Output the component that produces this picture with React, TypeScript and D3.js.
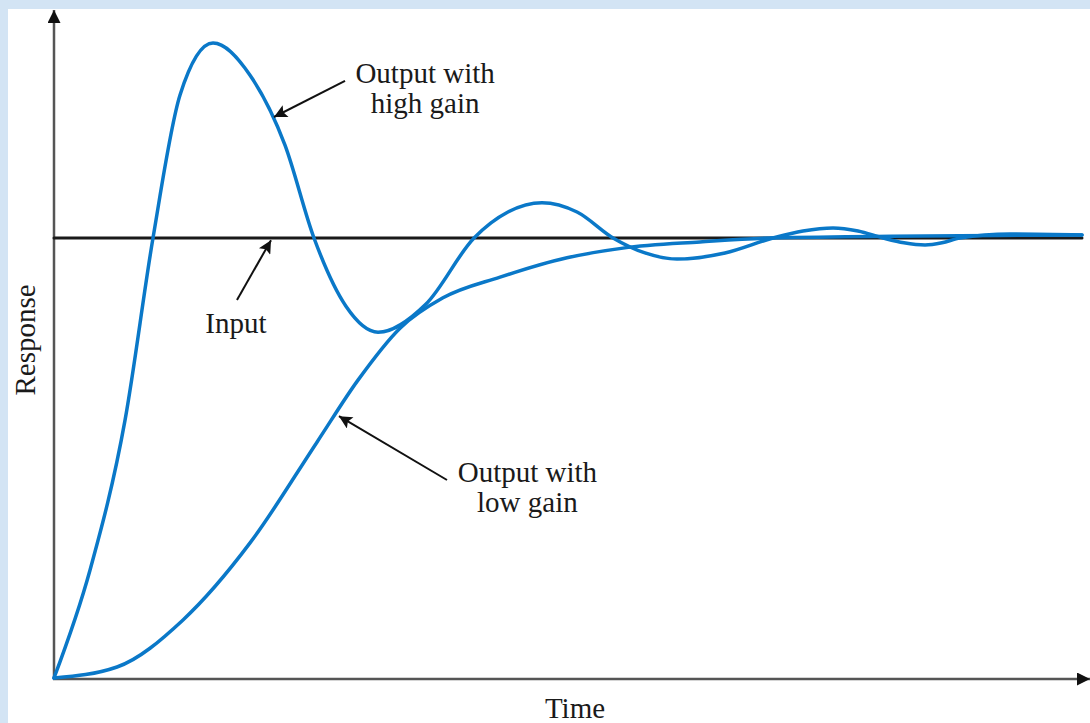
import { useEffect, useRef } from 'react';
import * as d3 from 'd3';

// time runs 0..10, response 0..~1.45 (input step = 1)
const highGainT = [0, 0.35, 0.691, 0.963, 1.226, 1.547, 1.907, 2.247, 2.529, 2.84, 3.152, 3.619, 4.086, 4.416, 4.747, 5.088, 5.438, 5.749, 6.06, 6.527, 6.994, 7.286, 7.578, 7.821, 8.064, 8.268, 8.473, 8.638, 8.813, 9.3, 10];
const highGainR = [0, 0.245, 0.586, 1.0, 1.325, 1.443, 1.37, 1.211, 1.0, 0.845, 0.786, 0.85, 1.0, 1.059, 1.08, 1.059, 1.0, 0.966, 0.952, 0.966, 1.0, 1.016, 1.023, 1.016, 1.0, 0.989, 0.984, 0.989, 1.0, 1.009, 1.007];

const lowGainT = [0, 0.613, 1.255, 1.907, 2.558, 2.957, 3.366, 3.784, 4.339, 4.99, 5.535, 6.284, 6.965, 10];
const lowGainR = [0, 0.025, 0.132, 0.307, 0.536, 0.677, 0.795, 0.864, 0.911, 0.955, 0.977, 0.991, 1.0, 1.007];

const inputT = [0, 10];
const inputR = [1, 1];

// annotation arrows: [tailT, tailR, tipT, tipR]
const arrowNames = ['high', 'input', 'low'];
const arrowCoords = [
  [2.831, 1.357, 2.14, 1.275],
  [1.78, 0.859, 2.111, 0.995],
  [3.823, 0.45, 2.772, 0.595],
];

// label lines and their centre anchor (t, r of first baseline)
const labelLines = [['Output with', 'high gain'], ['Input'], ['Output with', 'low gain']];
const labelAnchors = [[3.61, 1.352], [1.77, 0.784], [4.605, 0.445]];

const xLabel = 'Time';
const yLabel = 'Response';

const W = 1090;
const H = 723;

export default function App() {
  const svgRef = useRef<SVGSVGElement>(null);

  useEffect(() => {
    if (!svgRef.current) return;
    const svg = d3.select(svgRef.current);
    svg.selectAll('*').remove();

    const x = d3.scaleLinear().domain([0, 10]).range([54, 1082]);
    const y = d3.scaleLinear().domain([0, 1]).range([678, 238]);

    const blue = '#0a78c8';
    const font = '"Liberation Serif", "DejaVu Serif", serif';
    const fontSize = 29;

    // background frame
    svg.append('rect').attr('width', W).attr('height', H).attr('fill', '#d3e4f4');
    svg.append('rect').attr('x', 8).attr('y', 9).attr('width', W - 8).attr('height', H - 9).attr('fill', '#ffffff');

    const defs = svg.append('defs');
    defs.append('marker')
      .attr('id', 'axis-head')
      .attr('viewBox', '0 0 10 10')
      .attr('refX', 10)
      .attr('refY', 5)
      .attr('markerUnits', 'userSpaceOnUse')
      .attr('markerWidth', 14)
      .attr('markerHeight', 13)
      .attr('orient', 'auto')
      .append('path')
      .attr('d', 'M0,0 L10,5 L0,10 Z')
      .attr('fill', '#111');
    defs.append('marker')
      .attr('id', 'note-head')
      .attr('viewBox', '0 0 10 10')
      .attr('refX', 10)
      .attr('refY', 5)
      .attr('markerUnits', 'userSpaceOnUse')
      .attr('markerWidth', 20)
      .attr('markerHeight', 13)
      .attr('orient', 'auto')
      .append('path')
      .attr('d', 'M0,0 L10,5 L0,10 L2,5 Z')
      .attr('fill', '#111');

    // axes
    const [x0, x1] = x.range();
    svg.append('line')
      .attr('x1', x0).attr('y1', y(0) + 1)
      .attr('x2', x0).attr('y2', 10)
      .attr('stroke', '#555').attr('stroke-width', 2.5)
      .attr('marker-end', 'url(#axis-head)');
    svg.append('line')
      .attr('x1', x0 - 1).attr('y1', y(0) + 1)
      .attr('x2', x1 + 8).attr('y2', y(0) + 1)
      .attr('stroke', '#555').attr('stroke-width', 2.5)
      .attr('marker-end', 'url(#axis-head)');

    const drawSeries = (ts: number[], rs: number[], color: string, w: number, curve: d3.CurveFactory) => {
      const gen = d3.line<number>()
        .x((t) => x(t))
        .y((_, i) => y(rs[i]))
        .curve(curve);
      svg.append('path')
        .datum(ts)
        .attr('d', gen)
        .attr('fill', 'none')
        .attr('stroke', color)
        .attr('stroke-width', w)
        .attr('stroke-linecap', 'round');
    };

    drawSeries(inputT, inputR, '#1a1a1a', 3, d3.curveLinear);
    drawSeries(lowGainT, lowGainR, blue, 3.5, d3.curveMonotoneX);
    drawSeries(highGainT, highGainR, blue, 3.5, d3.curveMonotoneX);

    // annotation arrows
    svg.selectAll('.note-arrow')
      .data(arrowCoords)
      .enter()
      .append('line')
      .attr('class', (_, i) => `note-arrow ${arrowNames[i]}`)
      .attr('x1', (d) => x(d[0]))
      .attr('y1', (d) => y(d[1]))
      .attr('x2', (d) => x(d[2]))
      .attr('y2', (d) => y(d[3]))
      .attr('stroke', '#111')
      .attr('stroke-width', 2)
      .attr('marker-end', 'url(#note-head)');

    // labels
    labelLines.forEach((lines, i) => {
      const [t, r] = labelAnchors[i];
      const txt = svg.append('text')
        .attr('x', x(t))
        .attr('y', y(r))
        .attr('text-anchor', 'middle')
        .attr('font-family', font)
        .attr('font-size', fontSize)
        .attr('fill', '#1a1a1a');
      lines.forEach((s, j) => {
        txt.append('tspan').attr('x', x(t)).attr('dy', j === 0 ? 0 : 30).text(s);
      });
    });

    svg.append('text')
      .attr('x', (x0 + x1) / 2 + 7)
      .attr('y', 718)
      .attr('text-anchor', 'middle')
      .attr('font-family', font)
      .attr('font-size', fontSize)
      .attr('fill', '#1a1a1a')
      .text(xLabel);

    svg.append('text')
      .attr('transform', `translate(35, ${(y(0) + 10) / 2 - 4}) rotate(-90)`)
      .attr('text-anchor', 'middle')
      .attr('font-family', font)
      .attr('font-size', fontSize)
      .attr('fill', '#1a1a1a')
      .text(yLabel);
  }, []);

  return (
    <div style={{ position: 'absolute', left: 0, top: 0 }}>
      <svg ref={svgRef} width={W} height={H} style={{ display: 'block' }} />
    </div>
  );
}
